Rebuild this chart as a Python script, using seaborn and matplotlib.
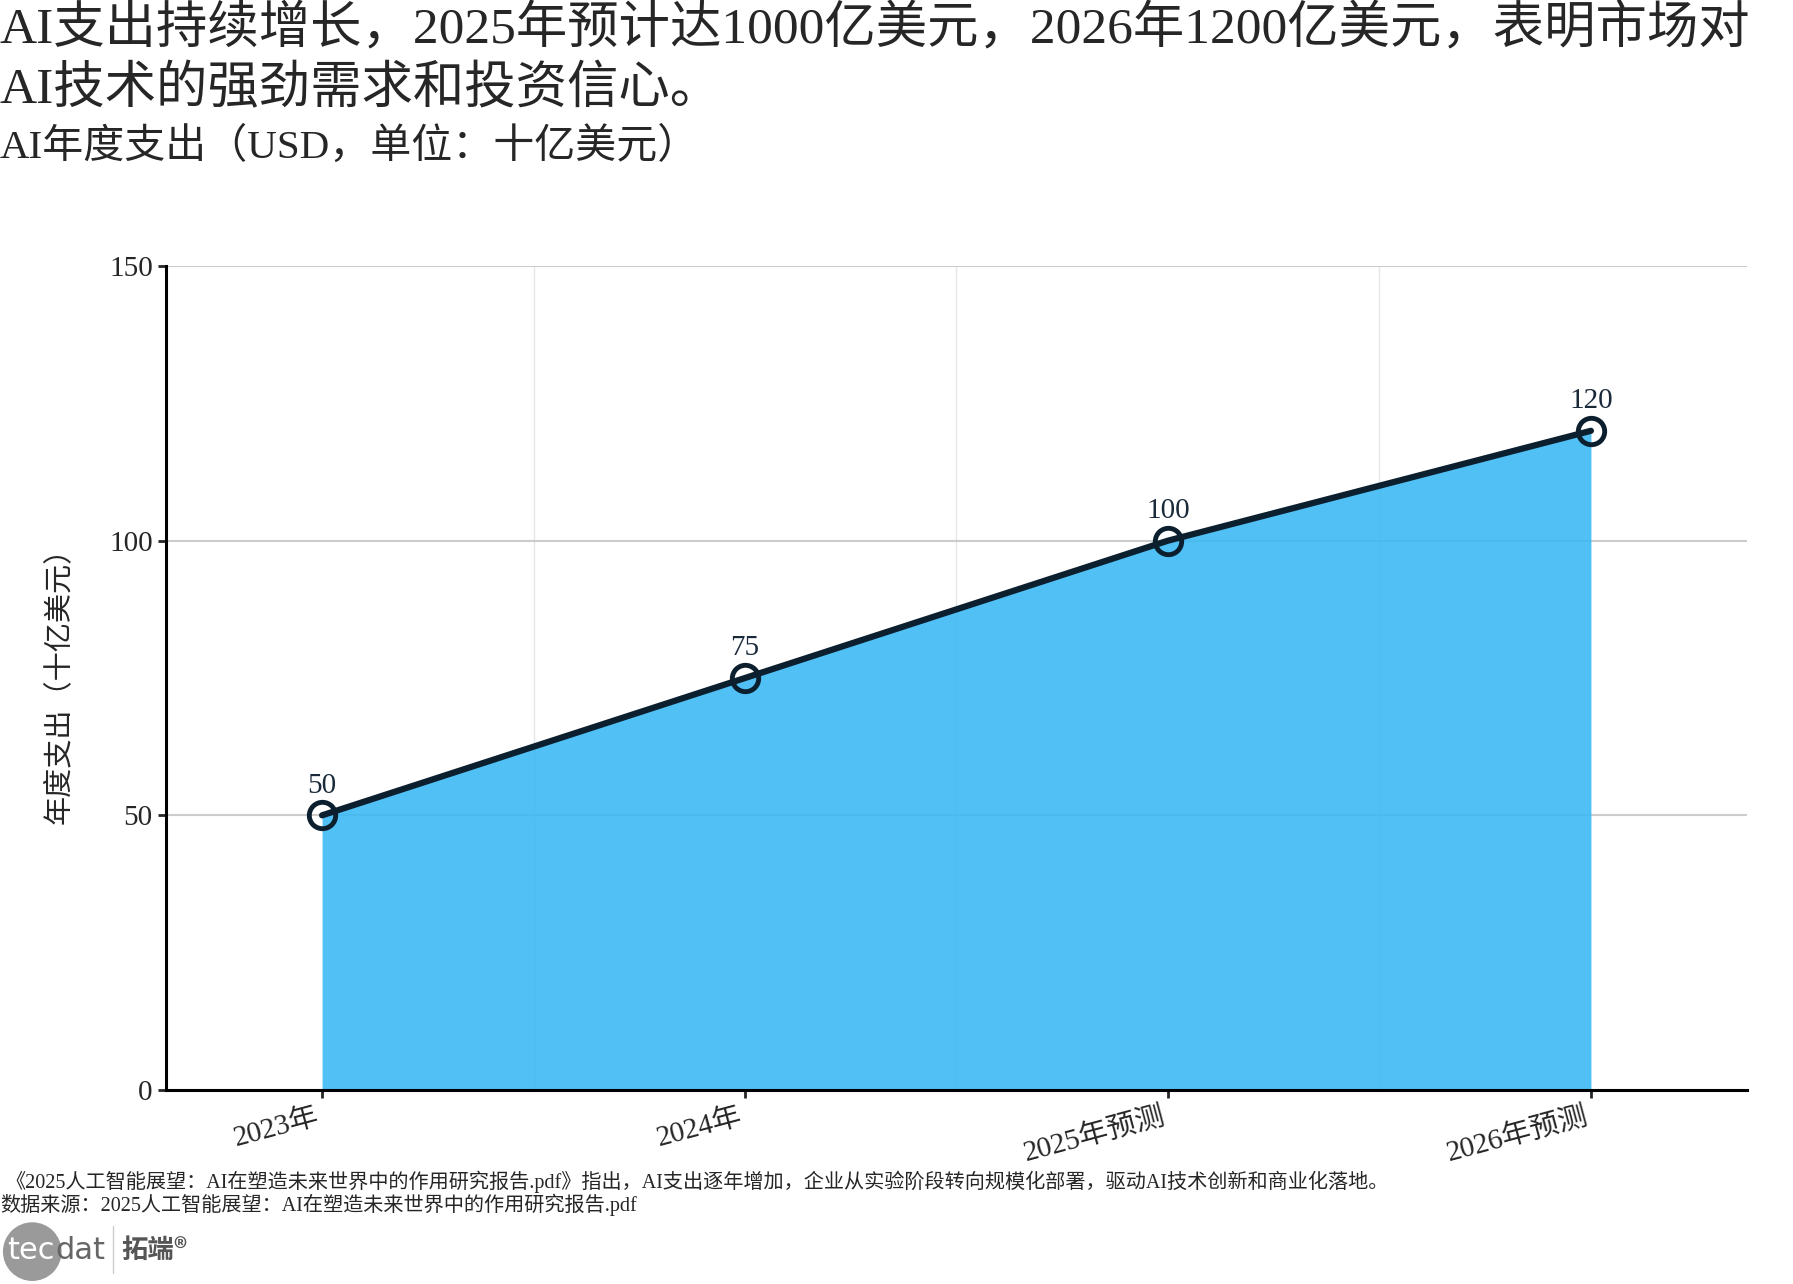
import numpy as np
import pandas as pd
import matplotlib.pyplot as plt
import matplotlib.patches as mpatches
import seaborn as sns

years = ["2023年", "2024年", "2025年预测", "2026年预测"]
spend = [50, 75, 100, 120]
y_ticks = [0, 50, 100, 150]

title = "AI支出持续增长，2025年预计达1000亿美元，2026年1200亿美元，表明市场对\nAI技术的强劲需求和投资信心。"
subtitle = "AI年度支出（USD，单位：十亿美元）"
ylabel = "年度支出（十亿美元）"
note = "《2025人工智能展望：AI在塑造未来世界中的作用研究报告.pdf》指出，AI支出逐年增加，企业从实验阶段转向规模化部署，驱动AI技术创新和商业化落地。"
source = "数据来源：2025人工智能展望：AI在塑造未来世界中的作用研究报告.pdf"

sns.set_theme(style="white")
plt.rcParams['font.family'] = ['Liberation Serif', 'Noto Sans CJK SC', 'DejaVu Sans']

df = pd.DataFrame({"idx": range(len(years)), "year": years, "spend": spend})

fig = plt.figure(figsize=(17.93, 12.84), dpi=100)
ax = fig.add_axes([166 / 1793, 1 - 1090 / 1284, (1747 - 166) / 1793, (1090 - 266) / 1284])

line_col = "#0b1f2e"
fill_col = "#3dbaf4"

ax.fill_between(df["idx"], 0, df["spend"], color=fill_col, alpha=0.9, linewidth=0, zorder=1)
sns.lineplot(data=df, x="idx", y="spend", ax=ax, color=line_col, linewidth=4.5,
             marker="o", markersize=19, markerfacecolor="none",
             markeredgecolor=line_col, markeredgewidth=3.5, zorder=3)

for i, v in zip(df["idx"], df["spend"]):
    ax.annotate(str(v), (i, v), xytext=(0, 12), textcoords="offset points",
                ha="center", va="bottom", fontsize=21, color="#1a2a3a")

ax.set_xlim(-0.369, 3.369)
ax.set_ylim(0, 150)
ax.set_yticks(y_ticks)
ax.set_xticks(df["idx"])
ax.set_xticklabels(years, rotation=15, ha="right", fontsize=21)
ax.tick_params(axis="y", labelsize=21, length=6, width=2, left=True, direction="out")
ax.tick_params(axis="x", length=6, width=2, bottom=True, direction="out")
ax.set_xlabel("")
ax.set_ylabel(ylabel, fontsize=21, labelpad=26)

ax.set_xticks([0.5, 1.5, 2.5], minor=True)
ax.tick_params(axis="x", which="minor", length=0)
ax.grid(axis="x", which="minor", color="#e6e6e6", linewidth=1, zorder=0)
ax.grid(axis="y", which="major", color="#cccccc", linewidth=1.5, zorder=0)
ax.grid(axis="x", which="major", visible=False)
ax.set_axisbelow(True)
for s in ["top", "right"]:
    ax.spines[s].set_visible(False)
for s in ["left", "bottom"]:
    ax.spines[s].set_color("black")
    ax.spines[s].set_linewidth(2.2)
    ax.spines[s].set_zorder(5)

fig.text(0.0, 1 - 5 / 1284, title, ha="left", va="top", fontsize=37, linespacing=1.32)
fig.text(0.0, 1 - 128 / 1284, subtitle, ha="left", va="top", fontsize=29.5)

fig.text(0.003, 1 - 1182 / 1284, note, ha="left", va="center", fontsize=14.5)
fig.text(0.0, 1 - 1205 / 1284, source, ha="left", va="center", fontsize=14.5)

# logo
logo = fig.add_axes([0, 0, 0.12, 0.055])
logo.set_xlim(0, 220)
logo.set_ylim(0, 70)
logo.set_aspect("equal")
logo.axis("off")
logo.add_patch(mpatches.Circle((33, 32), 30, color="#9a9a9a", lw=0))
logo.text(56, 33, "tec", fontsize=22, color="white", va="center", ha="right", family="DejaVu Sans")
logo.text(57, 33, "dat", fontsize=22, color="#666666", va="center", ha="left", family="DejaVu Sans")
logo.plot([116, 116], [10, 58], color="#cccccc", lw=1)
logo.text(124, 33, "拓端®", fontsize=19, color="#555555", va="center", ha="left",
          family=["Noto Sans CJK SC", "DejaVu Sans"], fontweight="bold")

fig.savefig("out.png", dpi=100)
